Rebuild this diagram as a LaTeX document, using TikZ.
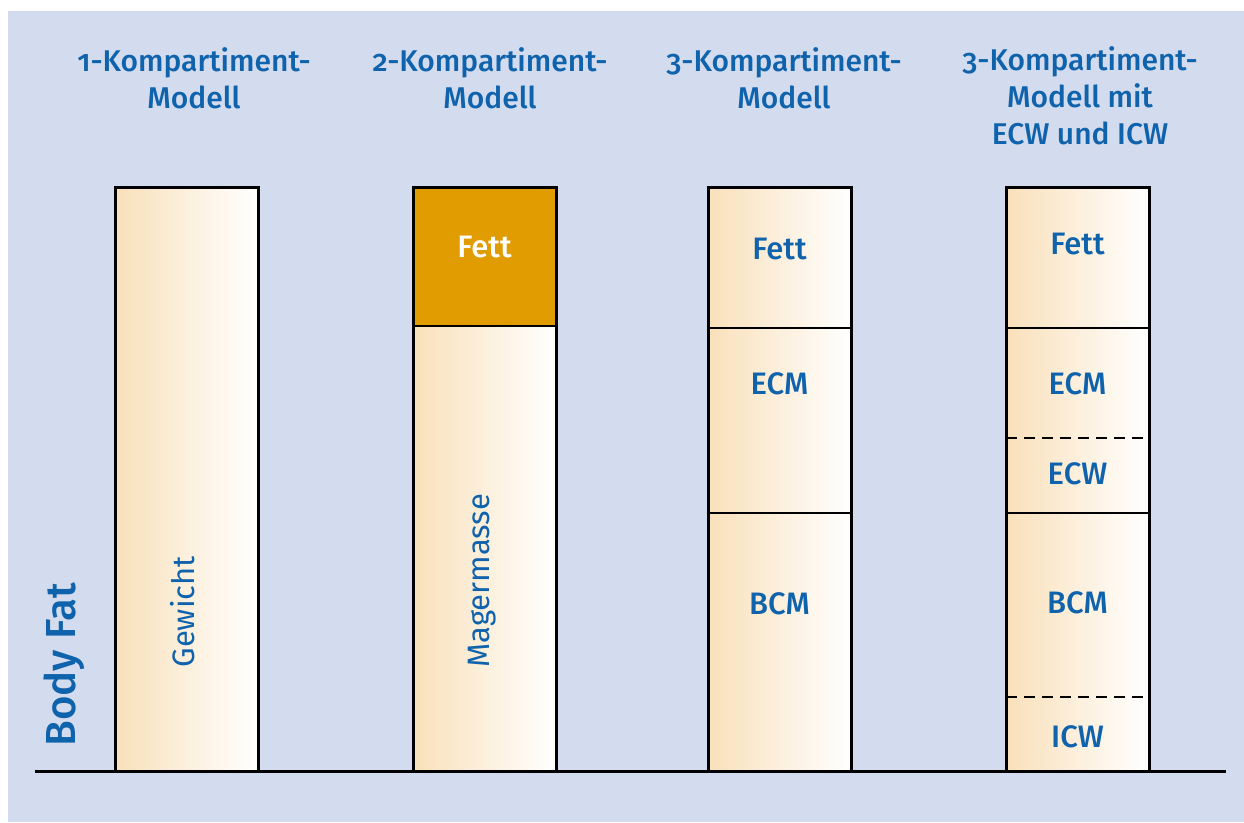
\documentclass[tikz,border=0pt]{standalone}
\usepackage{fontspec}
\setmainfont{Fira Sans}[Numbers=OldStyle, BoldFont={Fira Sans Medium}]
\definecolor{bgblue}{HTML}{D3DCEE}
\definecolor{txtblue}{HTML}{0F62AC}
\definecolor{fettorange}{HTML}{E09C00}
\definecolor{gradleft}{HTML}{F9E0BA}
\begin{document}
\begin{tikzpicture}[x=1pt,y=-1pt,
  title/.style={text=txtblue, font=\fontsize{30}{37}\selectfont\bfseries, align=center},
  lab/.style={text=txtblue, font=\fontsize{31}{35}\selectfont\bfseries},
  vlab/.style={text=txtblue, font=\fontsize{31}{34}\selectfont, rotate=90, anchor=base west},
  barframe/.style={draw=black, line width=3pt},
  divline/.style={draw=black, line width=2pt},
  dashline/.style={draw=black, line width=2pt, dash pattern=on 11pt off 7pt}
]
\useasboundingbox (0,0) rectangle (1244,822);
\fill[white] (0,0) rectangle (1244,822);
\fill[bgblue] (8,11) rectangle (1244,822);

% titles
\node[title] (t1) at (194,78) {1-Kompartiment-\\Modell};
\node[title] (t2) at (490,78) {2-Kompartiment-\\Modell};
\node[title] (t3) at (784,78) {3-Kompartiment-\\Modell};
\node[title] (t4) at (1080,96) {3-Kompartiment-\\Modell mit\\ECW und ICW};

% bar 1
\shade[left color=gradleft, right color=white] (115,187) rectangle (258,771);
\draw[barframe] (115,771) -- (115,187) -- (258,187) -- (258,771);
\node[vlab] (gew) at (194,671) {Gewicht};

% bar 2
\shade[left color=gradleft, right color=white] (413,326) rectangle (556,771);
\fill[fettorange] (413,187) rectangle (556,326);
\draw[barframe] (413,771) -- (413,187) -- (556,187) -- (556,771);
\draw[divline] (413,326) -- (556,326);
\node[lab, text=white] (fett2) at (484.5,247) {Fett};
\node[vlab] (mager) at (489,671) {Magermasse};

% bar 3
\shade[left color=gradleft, right color=white] (708,187) rectangle (851,771);
\draw[barframe] (708,771) -- (708,187) -- (851,187) -- (851,771);
\draw[divline] (708,328) -- (851,328);
\draw[divline] (708,513) -- (851,513);
\node[lab] (fett3) at (779.5,249) {Fett};
\node[lab] (ecm3) at (779.5,384) {ECM};
\node[lab] (bcm3) at (779.5,604) {BCM};

% bar 4
\shade[left color=gradleft, right color=white] (1006,187) rectangle (1149,771);
\draw[barframe] (1006,771) -- (1006,187) -- (1149,187) -- (1149,771);
\draw[divline] (1006,328) -- (1149,328);
\draw[dashline] (1006,438) -- (1149,438);
\draw[divline] (1006,513) -- (1149,513);
\draw[dashline] (1006,697) -- (1149,697);
\node[lab] (fett4) at (1077.5,244) {Fett};
\node[lab] (ecm4) at (1077.5,384) {ECM};
\node[lab] (ecw4) at (1077.5,474) {ECW};
\node[lab] (bcm4) at (1077.5,603) {BCM};
\node[lab] (icw4) at (1077.5,737) {ICW};

% baseline
\coordinate (bl) at (35,771);
\coordinate (br) at (1226,771);
\draw[black, line width=3pt] (bl) -- (br);

% axis label
\node[text=txtblue, font=\fontsize{42}{50}\selectfont\bfseries, rotate=90, anchor=base west] (bf) at (75,750) {Body Fat};
\end{tikzpicture}
\end{document}
